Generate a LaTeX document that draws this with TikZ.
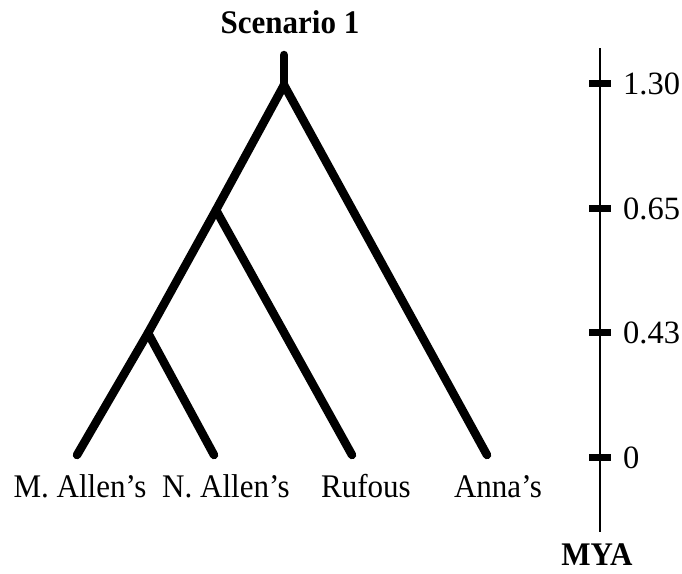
\documentclass[tikz,border=0pt]{standalone}
\usepackage{fontspec}
\setmainfont{Liberation Serif}
\newfontfamily\narrowserif{Liberation Serif}[FakeStretch=0.94]
\tikzset{
  branch/.style={line width=8.5pt, line cap=round, line join=round},
  taxon/.style={anchor=base, inner sep=0pt, font=\narrowserif\fontsize{33}{38}\selectfont},
  ticklabel/.style={anchor=west, inner sep=0pt, font=\fontsize{32.5}{38}\selectfont},
  heading/.style={anchor=base, inner sep=0pt, font=\narrowserif\fontsize{33}{38}\selectfont\bfseries}
}
\begin{document}
\begin{tikzpicture}[x=1pt, y=-1pt]
  \useasboundingbox (0,0) rectangle (682,573);

  % Title
  \node[heading] (title) at (290,33) {Scenario 1};

  % Internal points of the tree
  \coordinate (stem) at (284,55);
  \coordinate (root) at (284,85);
  \coordinate (nodeA) at (216,210);
  \coordinate (nodeB) at (148,333);

  % Tips
  \coordinate (mallen) at (77,455);
  \coordinate (nallen) at (214,455);
  \coordinate (rufous) at (352,455);
  \coordinate (annas) at (487,455);

  % Branches
  \draw[branch] (stem) -- (root);
  \draw[branch] (root) -- (nodeA);
  \draw[branch] (root) -- (annas);
  \draw[branch] (nodeA) -- (nodeB);
  \draw[branch] (nodeA) -- (rufous);
  \draw[branch] (nodeB) -- (mallen);
  \draw[branch] (nodeB) -- (nallen);

  % Tip labels
  \node[taxon] (lmallen) at (80,497) {M. Allen’s};
  \node[taxon] (lnallen) at (226,497) {N. Allen’s};
  \node[taxon] (lrufous) at (366,497) {Rufous};
  \node[taxon] (lannas) at (498,497) {Anna’s};

  % Time axis
  \coordinate (axtop) at (600,48);
  \coordinate (axbot) at (600,532);
  \draw[line width=2.5pt] (axtop) -- (axbot);
  \foreach \y/\lab/\nm in {83/1.30/t1, 208/0.65/t2, 332/0.43/t3, 457/0/t4} {
    \draw[line width=7pt] (589,\y) -- (611,\y);
    \node[ticklabel] (\nm) at (623,\y+1) {\lab};
  }

  % Axis unit
  \node[heading] (mya) at (597,565) {MYA};

\end{tikzpicture}
\end{document}
